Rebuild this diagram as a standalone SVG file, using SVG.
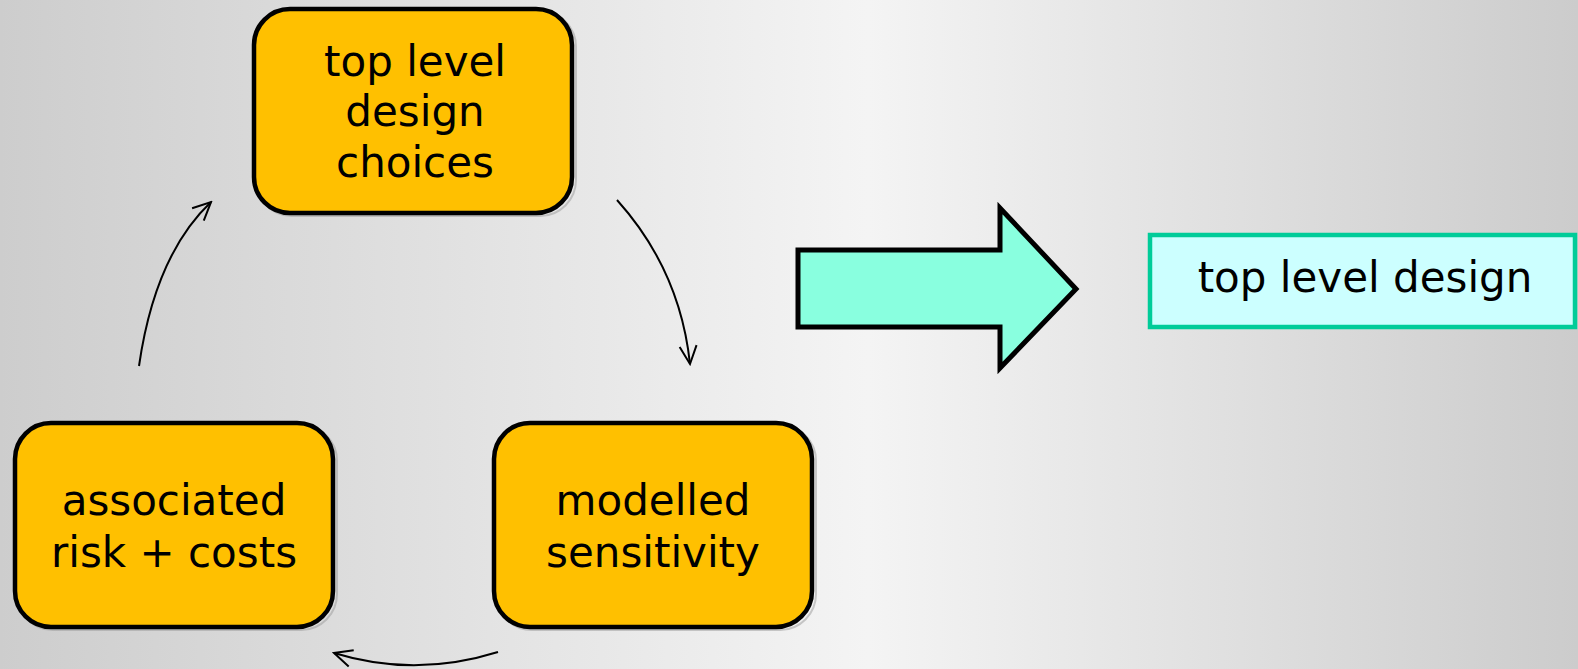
<svg xmlns="http://www.w3.org/2000/svg" width="1578" height="669" viewBox="0 0 1578 669">
<defs>
<linearGradient id="bg" x1="0" y1="0" x2="1" y2="0">
<stop offset="0" stop-color="#cdcdcd"/>
<stop offset="0.55" stop-color="#f4f4f4"/>
<stop offset="1" stop-color="#cccccc"/>
</linearGradient>
<marker id="arr" viewBox="-20 -10 22 20" markerWidth="22" markerHeight="20" refX="0" refY="0" orient="auto" markerUnits="userSpaceOnUse">
<path d="M-18,-8.5 L0,0 L-18,8.5" fill="none" stroke="#000" stroke-width="2"/>
</marker>
<style>
.box{fill:#FFC000;stroke:#000;stroke-width:4.5}
.shadow{fill:none;stroke:#9a9a9a;stroke-width:2;opacity:0.5}
.t{font-family:"DejaVu Sans",sans-serif;font-size:42px;fill:#000;text-anchor:middle}
.conn{fill:none;stroke:#000;stroke-width:2;marker-end:url(#arr)}
</style>
</defs>
<rect width="1578" height="669" fill="url(#bg)"/>
<g id="connectors">
<path class="conn" d="M617,200 Q680,270 690,364"/>
<path class="conn" d="M498,652 Q415,678 334,653"/>
<path class="conn" d="M139,366 Q155,255 211,202"/>
</g>
<g id="node-top">
<rect class="shadow" x="256" y="11" width="320" height="205" rx="36"/>
<rect class="box" x="254" y="9" width="318" height="204" rx="36"/>
<text class="t" x="415" y="76">top level</text>
<text class="t" x="415" y="126">design</text>
<text class="t" x="415" y="177">choices</text>
</g>
<g id="node-left">
<rect class="shadow" x="17" y="425" width="320" height="205" rx="36"/>
<rect class="box" x="15" y="423" width="318" height="204" rx="36"/>
<text class="t" x="174" y="515">associated</text>
<text class="t" x="174" y="567">risk + costs</text>
</g>
<g id="node-right">
<rect class="shadow" x="496" y="425" width="320" height="205" rx="36"/>
<rect class="box" x="494" y="423" width="318" height="204" rx="36"/>
<text class="t" x="653" y="515">modelled</text>
<text class="t" x="653" y="567">sensitivity</text>
</g>
<g id="big-arrow">
<polygon points="798,250 1000,250 1000,208 1076,289 1000,368 1000,327 798,327" fill="#89FFDF" stroke="#000" stroke-width="5" stroke-linejoin="miter"/>
</g>
<g id="node-result">
<rect x="1150" y="235" width="425" height="92" fill="#CCFFFF" stroke="#00CC99" stroke-width="4.5"/>
<text class="t" x="1365" y="292">top level design</text>
</g>
</svg>
